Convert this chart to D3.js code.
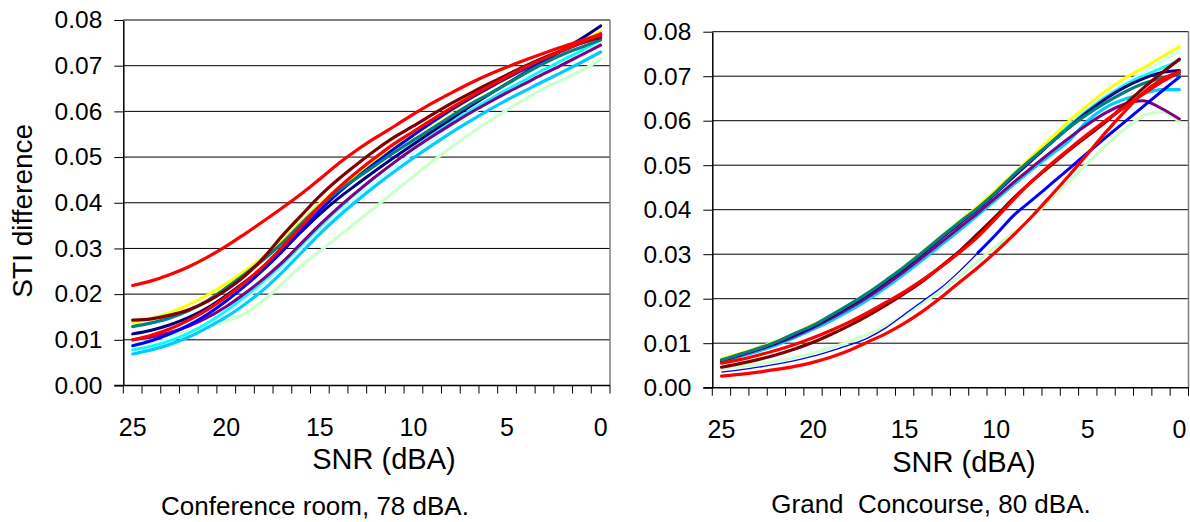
<!DOCTYPE html>
<html><head><meta charset="utf-8">
<script src="https://cdn.jsdelivr.net/npm/d3@7"></script>
<style>
body{margin:0;background:#fff}
svg{display:block}
text{font-family:"Liberation Sans",Arial,sans-serif;fill:#000}
</style>
</head><body>
<svg id="chart" width="1190" height="522"></svg>
<script>
// ---- categories & tick labels ----
const snrCategories = [25,24,23,22,21,20,19,18,17,16,15,14,13,12,11,10,9,8,7,6,5,4,3,2,1,0];
const xTickLabels = [25,20,15,10,5,0];
const yTickValues = [0,0.01,0.02,0.03,0.04,0.05,0.06,0.07,0.08];
const seriesKeys = ["paleGreen","lightCyan","skyBlue","cyan","yellow","purple","navy","blue","teal","maroon","redB","redA"];

// ---- Conference room, 78 dBA ----
const confRedA      = [0.0219,0.0229,0.0243,0.0260,0.0281,0.0305,0.0332,0.0360,0.0389,0.0419,0.0452,0.0486,0.0516,0.0543,0.0568,0.0594,0.0618,0.0640,0.0661,0.0680,0.0697,0.0713,0.0728,0.0742,0.0755,0.0768];
const confRedB      = [0.0100,0.0110,0.0124,0.0143,0.0166,0.0194,0.0226,0.0262,0.0303,0.0348,0.0393,0.0433,0.0468,0.0500,0.0530,0.0556,0.0582,0.0607,0.0631,0.0654,0.0676,0.0697,0.0716,0.0734,0.0752,0.0770];
const confMaroon    = [0.0143,0.0146,0.0154,0.0166,0.0184,0.0209,0.0240,0.0280,0.0328,0.0372,0.0415,0.0452,0.0485,0.0516,0.0544,0.0568,0.0593,0.0617,0.0639,0.0660,0.0680,0.0700,0.0718,0.0735,0.0750,0.0762];
const confYellow    = [0.0137,0.0147,0.0160,0.0177,0.0198,0.0223,0.0251,0.0282,0.0317,0.0358,0.0398,0.0433,0.0463,0.0492,0.0521,0.0548,0.0574,0.0600,0.0626,0.0649,0.0671,0.0694,0.0716,0.0736,0.0755,0.0775];
const confTeal      = [0.0129,0.0137,0.0148,0.0164,0.0186,0.0214,0.0244,0.0276,0.0312,0.0354,0.0393,0.0427,0.0455,0.0483,0.0511,0.0537,0.0563,0.0589,0.0615,0.0637,0.0660,0.0684,0.0706,0.0725,0.0741,0.0757];
const confNavy      = [0.0113,0.0121,0.0133,0.0149,0.0170,0.0197,0.0227,0.0260,0.0296,0.0336,0.0375,0.0410,0.0441,0.0471,0.0500,0.0528,0.0556,0.0583,0.0610,0.0636,0.0661,0.0686,0.0711,0.0735,0.0760,0.0787];
const confBlue      = [0.0087,0.0098,0.0113,0.0132,0.0156,0.0185,0.0218,0.0254,0.0294,0.0339,0.0383,0.0422,0.0456,0.0488,0.0519,0.0548,0.0576,0.0603,0.0628,0.0651,0.0673,0.0694,0.0714,0.0733,0.0750,0.0767];
const confPurple    = [0.0100,0.0106,0.0116,0.0130,0.0149,0.0173,0.0202,0.0234,0.0270,0.0311,0.0352,0.0390,0.0425,0.0458,0.0489,0.0518,0.0545,0.0571,0.0596,0.0619,0.0641,0.0662,0.0683,0.0703,0.0724,0.0745];
const confCyan      = [0.0078,0.0086,0.0098,0.0115,0.0137,0.0164,0.0195,0.0229,0.0266,0.0307,0.0348,0.0387,0.0423,0.0457,0.0489,0.0519,0.0548,0.0575,0.0601,0.0625,0.0648,0.0670,0.0692,0.0713,0.0734,0.0756];
const confLightCyan = [0.0090,0.0094,0.0102,0.0116,0.0135,0.0160,0.0190,0.0223,0.0260,0.0300,0.0340,0.0378,0.0413,0.0447,0.0479,0.0509,0.0538,0.0566,0.0592,0.0617,0.0640,0.0662,0.0684,0.0705,0.0727,0.0750];
const confSkyBlue   = [0.0069,0.0078,0.0090,0.0106,0.0127,0.0150,0.0178,0.0210,0.0248,0.0290,0.0332,0.0370,0.0405,0.0438,0.0469,0.0498,0.0526,0.0553,0.0578,0.0602,0.0625,0.0646,0.0667,0.0687,0.0708,0.0730];
const confPaleGreen = [0.0099,0.0104,0.0110,0.0118,0.0128,0.0141,0.0158,0.0187,0.0223,0.0262,0.0294,0.0326,0.0359,0.0392,0.0425,0.0458,0.0490,0.0521,0.0550,0.0577,0.0603,0.0628,0.0651,0.0670,0.0690,0.0714];

// ---- Grand Concourse, 80 dBA ----
const concRedA      = [0.0026,0.0030,0.0035,0.0041,0.0048,0.0057,0.0069,0.0084,0.0103,0.0122,0.0145,0.0172,0.0203,0.0237,0.0270,0.0306,0.0345,0.0387,0.0432,0.0478,0.0526,0.0575,0.0620,0.0662,0.0692,0.0710];
const concRedB      = [0.0055,0.0063,0.0073,0.0084,0.0097,0.0112,0.0129,0.0148,0.0169,0.0192,0.0216,0.0243,0.0272,0.0304,0.0339,0.0381,0.0425,0.0466,0.0503,0.0537,0.0570,0.0601,0.0630,0.0659,0.0686,0.0710];
const concMaroon    = [0.0046,0.0054,0.0063,0.0074,0.0087,0.0102,0.0120,0.0140,0.0162,0.0186,0.0212,0.0240,0.0273,0.0307,0.0346,0.0386,0.0428,0.0466,0.0500,0.0534,0.0566,0.0598,0.0635,0.0672,0.0706,0.0738];
const concYellow    = [0.0065,0.0077,0.0090,0.0104,0.0122,0.0141,0.0163,0.0187,0.0213,0.0242,0.0273,0.0306,0.0340,0.0374,0.0408,0.0445,0.0483,0.0522,0.0561,0.0600,0.0635,0.0667,0.0695,0.0718,0.0742,0.0766];
const concTeal      = [0.0062,0.0075,0.0088,0.0103,0.0122,0.0140,0.0163,0.0187,0.0213,0.0242,0.0272,0.0305,0.0339,0.0372,0.0404,0.0440,0.0480,0.0516,0.0551,0.0585,0.0615,0.0641,0.0664,0.0683,0.0695,0.0704];
const concNavy      = [0.0061,0.0074,0.0087,0.0101,0.0119,0.0138,0.0160,0.0184,0.0210,0.0239,0.0269,0.0302,0.0336,0.0369,0.0402,0.0438,0.0476,0.0513,0.0550,0.0586,0.0620,0.0650,0.0675,0.0694,0.0708,0.0713];
const concBlue      = [0.0035,0.0040,0.0046,0.0053,0.0061,0.0071,0.0083,0.0096,0.0112,0.0135,0.0165,0.0195,0.0225,0.0262,0.0303,0.0345,0.0389,0.0423,0.0458,0.0493,0.0528,0.0563,0.0597,0.0631,0.0665,0.0698];
const concPurple    = [0.0060,0.0072,0.0085,0.0099,0.0116,0.0135,0.0156,0.0179,0.0204,0.0232,0.0262,0.0294,0.0327,0.0360,0.0393,0.0428,0.0463,0.0497,0.0530,0.0562,0.0592,0.0618,0.0637,0.0645,0.0628,0.0604];
const concCyan      = [0.0063,0.0076,0.0089,0.0104,0.0122,0.0141,0.0163,0.0187,0.0213,0.0242,0.0273,0.0306,0.0340,0.0374,0.0406,0.0442,0.0479,0.0516,0.0553,0.0590,0.0624,0.0654,0.0680,0.0700,0.0718,0.0735];
const concLightCyan = [0.0060,0.0072,0.0084,0.0098,0.0115,0.0133,0.0154,0.0177,0.0203,0.0231,0.0262,0.0295,0.0330,0.0365,0.0400,0.0437,0.0475,0.0513,0.0551,0.0589,0.0624,0.0655,0.0683,0.0708,0.0732,0.0755];
const concSkyBlue   = [0.0058,0.0070,0.0082,0.0096,0.0113,0.0131,0.0151,0.0173,0.0198,0.0226,0.0256,0.0288,0.0321,0.0354,0.0388,0.0423,0.0458,0.0492,0.0524,0.0556,0.0600,0.0630,0.0648,0.0660,0.0670,0.0670];
const concPaleGreen = [0.0042,0.0047,0.0053,0.0060,0.0068,0.0078,0.0090,0.0104,0.0120,0.0140,0.0163,0.0190,0.0219,0.0251,0.0285,0.0318,0.0350,0.0384,0.0424,0.0465,0.0505,0.0545,0.0580,0.0610,0.0620,0.0598];

// ---- styles ----
const seriesColor = {redA:"#ff0000",redB:"#ff0000",maroon:"#800000",yellow:"#ffff00",teal:"#008080",navy:"#000080",
  blue:"#0000ff",purple:"#800080",cyan:"#00ffff",lightCyan:"#ccffff",skyBlue:"#00ccff",paleGreen:"#ccffcc"};
const seriesWidth = {redA:3.2,redB:3.2,maroon:3.2,yellow:3.0,teal:3.2,navy:3.0,blue:3.0,purple:3.0,cyan:2.8,lightCyan:3.0,skyBlue:3.2,paleGreen:3.2};

const panels = [
  {x0:123.3, x1:610, yTop:20, yBot:385.5,
   data:{redA:confRedA,redB:confRedB,maroon:confMaroon,yellow:confYellow,teal:confTeal,navy:confNavy,blue:confBlue,
         purple:confPurple,cyan:confCyan,lightCyan:confLightCyan,skyBlue:confSkyBlue,paleGreen:confPaleGreen},
   thinStart:{},
   xTitleX:384, xTitleY:469, caption:"Conference room, 78 dBA.", capX:315, capY:515, yTitle:true},
  {x0:712.3, x1:1188.5, yTop:31.7, yBot:387.7,
   data:{redA:concRedA,redB:concRedB,maroon:concMaroon,yellow:concYellow,teal:concTeal,navy:concNavy,blue:concBlue,
         purple:concPurple,cyan:concCyan,lightCyan:concLightCyan,skyBlue:concSkyBlue,paleGreen:concPaleGreen},
   thinStart:{blue:14},
   xTitleX:964, xTitleY:472, caption:"Grand\u00a0 Concourse, 80 dBA.", capX:931, capY:513, yTitle:false}
];

const svg = d3.select("#chart");

panels.forEach(p => {
  const x = d3.scaleBand().domain(snrCategories).range([p.x0, p.x1]).paddingInner(0).paddingOuter(0);
  const y = d3.scaleLinear().domain([0, 0.08]).range([p.yBot, p.yTop]);
  const g = svg.append("g");

  // gridlines
  g.selectAll("line.grid").data(yTickValues.filter(v => v > 0)).join("line")
    .attr("x1", p.x0).attr("x2", p.x1).attr("y1", d => y(d)).attr("y2", d => y(d))
    .attr("stroke", "#000").attr("stroke-width", 1);
  // right frame
  g.append("line").attr("x1", p.x1).attr("x2", p.x1).attr("y1", p.yTop).attr("y2", p.yBot)
    .attr("stroke", "#808080").attr("stroke-width", 1.5);

  // series
  const xc = i => x(snrCategories[i]) + x.bandwidth() / 2;
  const line = d3.line().x(d => xc(d.i)).y(d => y(d.v)).curve(d3.curveMonotoneX);
  seriesKeys.forEach(k => {
    const pts = p.data[k].map((v, i) => ({i, v}));
    const ts = p.thinStart[k];
    if (ts !== undefined) {
      g.append("path").datum(pts.slice(0, ts + 1)).attr("d", line).attr("fill", "none")
        .attr("stroke", seriesColor[k]).attr("stroke-width", 1.3);
      g.append("path").datum(pts.slice(ts)).attr("d", line).attr("fill", "none")
        .attr("stroke", seriesColor[k]).attr("stroke-width", seriesWidth[k])
        .attr("stroke-linejoin", "round").attr("stroke-linecap", "round");
    } else {
      g.append("path").datum(pts).attr("d", line).attr("fill", "none")
        .attr("stroke", seriesColor[k]).attr("stroke-width", seriesWidth[k])
        .attr("stroke-linejoin", "round").attr("stroke-linecap", "round");
    }
  });

  // y axis
  const yAxis = d3.axisLeft(y).tickValues(yTickValues).tickFormat(d3.format(".2f")).tickSize(9).tickSizeOuter(0).tickPadding(12);
  const ya = g.append("g").attr("transform", `translate(${p.x0},0)`).call(yAxis);
  ya.select(".domain").attr("stroke", "#000").attr("stroke-width", 1.5);
  ya.selectAll(".tick line").attr("stroke", "#000");
  ya.selectAll("text").attr("font-size", 24.5).attr("font-family", '"Liberation Sans",Arial,sans-serif').attr("fill", "#000");

  // x axis line & ticks at band boundaries
  g.append("line").attr("x1", p.x0 - 9).attr("x2", p.x1).attr("y1", p.yBot).attr("y2", p.yBot)
    .attr("stroke", "#000").attr("stroke-width", 1.5);
  const bounds = snrCategories.map(c => x(c)).concat([p.x1]);
  g.selectAll("line.xt").data(bounds).join("line")
    .attr("x1", d => d).attr("x2", d => d).attr("y1", p.yBot).attr("y2", p.yBot + 8)
    .attr("stroke", "#000").attr("stroke-width", 1);
  g.selectAll("text.xl").data(xTickLabels).join("text")
    .attr("x", d => x(d) + x.bandwidth() / 2).attr("y", p.yBot + 50.5)
    .attr("text-anchor", "middle").attr("font-size", 25).text(d => d);

  g.append("text").attr("x", p.xTitleX).attr("y", p.xTitleY).attr("text-anchor", "middle")
    .attr("font-size", 29).text("SNR (dBA)");
  g.append("text").attr("x", p.capX).attr("y", p.capY).attr("text-anchor", "middle")
    .attr("font-size", 26).style("white-space", "pre").text(p.caption);
  if (p.yTitle) {
    g.append("text").attr("transform", `translate(32,${(p.yTop + p.yBot) / 2 + 8}) rotate(-90)`)
      .attr("text-anchor", "middle").attr("font-size", 28).text("STI difference");
  }
});
</script>
</body></html>
